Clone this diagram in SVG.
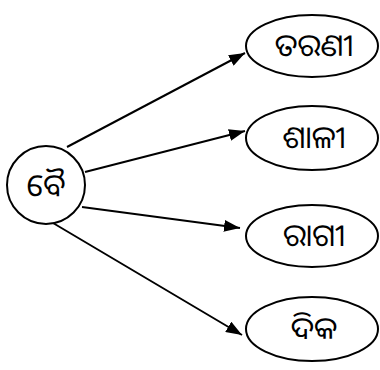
<svg xmlns="http://www.w3.org/2000/svg" width="380" height="370" viewBox="0 0 380 370">
<defs>
<marker id="ah" markerWidth="16" markerHeight="12" refX="16" refY="6" orient="auto" markerUnits="userSpaceOnUse">
<path d="M0,0 L16,6 L0,12 Z" fill="#000"/>
</marker>
<style>
.n{fill:#fff;stroke:#000;stroke-width:2}
.t{font-family:"Noto Sans Oriya","Noto Sans","DejaVu Sans",sans-serif;font-size:31px;text-anchor:middle;dominant-baseline:central;fill:#000}
.e{stroke:#000;stroke-width:2;fill:none;marker-end:url(#ah)}
</style>
</defs>
<rect width="380" height="370" fill="#fff"/>
<g id="edges">
<line class="e" x1="67" y1="147" x2="245" y2="53"/>
<line class="e" x1="85" y1="172" x2="245" y2="131"/>
<line class="e" x1="82" y1="207" x2="240" y2="228"/>
<line class="e" x1="53" y1="223" x2="242" y2="335"/>
</g>
<g id="root"><circle class="n" cx="46" cy="185" r="39"/><text class="t" x="46" y="184">ବୈ</text></g>
<g id="n1"><ellipse class="n" cx="312" cy="46" rx="66" ry="31"/><text class="t" x="314" y="44">ତରଣୀ</text></g>
<g id="n2"><ellipse class="n" cx="312" cy="138" rx="66" ry="32"/><text class="t" x="314" y="136">ଶାଳୀ</text></g>
<g id="n3"><ellipse class="n" cx="312" cy="236" rx="66" ry="31"/><text class="t" x="314" y="234">ରାଗୀ</text></g>
<g id="n4"><ellipse class="n" cx="312" cy="329" rx="66" ry="32"/><text class="t" x="314" y="327">ଦିକ</text></g>
</svg>
